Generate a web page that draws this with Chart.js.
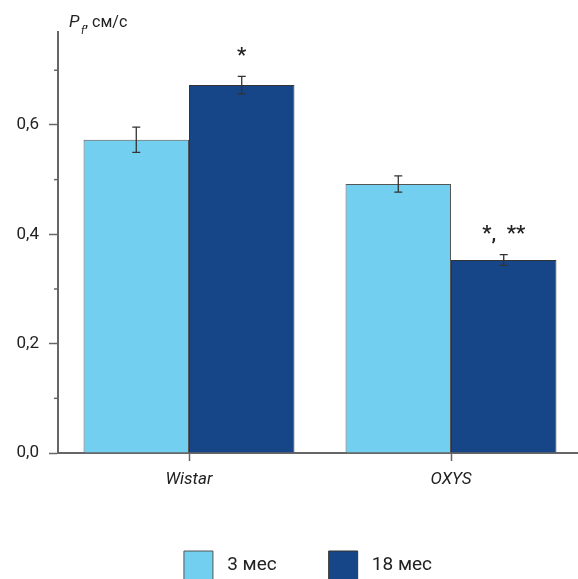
<!DOCTYPE html>
<html>
<head>
<meta charset="utf-8">
<script src="https://cdn.jsdelivr.net/npm/chart.js@4"></script>
<style>
  html, body { margin: 0; padding: 0; background: #fff; overflow: hidden; }
  #wrap { width: 578px; height: 579px; overflow: hidden; }
</style>
</head>
<body>
<div id="wrap"><canvas id="grafico" width="582" height="590"></canvas></div>
<script>
// Dados
const categorias = ['Wistar', 'OXYS'];
const series = ['3 мес', '18 мес'];
const valores3 = [0.573, 0.492];
const valores18 = [0.673, 0.353];
const erros3 = [0.023, 0.015];
const erros18 = [0.016, 0.010];
const marcas18 = ['*', '*,  **'];
const cores = ['#72CFF0', '#164687'];

const FONTE = 'Roboto, "DejaVu Sans", sans-serif';

// é um décimo "redondo"?
const decimo = v => Math.abs(v * 10 - Math.round(v * 10)) < 1e-6;
const par = v => decimo(v) && Math.round(v * 10) % 2 === 0;

// legenda um pouco à direita
const deslocaLegenda = {
  id: 'deslocaLegenda',
  afterLayout(chart) {
    chart.legend.left += 17;
    chart.legend.right += 17;
  }
};

// barras de erro + asteriscos + título do eixo
const extras = {
  id: 'extras',
  afterDatasetsDraw(chart) {
    const c = chart.ctx;
    const y = chart.scales.y;
    const erros = [erros3, erros18];
    c.save();
    chart.data.datasets.forEach((ds, i) => {
      const meta = chart.getDatasetMeta(i);
      meta.data.forEach((bar, j) => {
        const v = ds.data[j], e = erros[i][j];
        const yt = y.getPixelForValue(v + e), yb = y.getPixelForValue(v - e);
        c.strokeStyle = '#333';
        c.lineWidth = 1.3;
        c.beginPath();
        c.moveTo(bar.x, yt); c.lineTo(bar.x, yb);
        c.moveTo(bar.x - 4, yt); c.lineTo(bar.x + 4, yt);
        c.moveTo(bar.x - 4, yb); c.lineTo(bar.x + 4, yb);
        c.stroke();
        if (i === 1 && marcas18[j]) {
          c.fillStyle = '#222';
          c.font = '500 21px ' + FONTE;
          c.textAlign = 'center';
          c.textBaseline = 'middle';
          c.fillText(marcas18[j], bar.x, yt - 20);
        }
      });
    });
    // ticks menores
    c.strokeStyle = '#666';
    c.lineWidth = 1.5;
    [0.1, 0.3, 0.5, 0.7].forEach(v => {
      const py = y.getPixelForValue(v);
      c.beginPath();
      c.moveTo(chart.chartArea.left - 4, py);
      c.lineTo(chart.chartArea.left, py);
      c.stroke();
    });
    // título
    c.fillStyle = '#222';
    c.textBaseline = 'alphabetic';
    c.textAlign = 'left';
    c.font = 'italic 17px ' + FONTE;
    c.fillText('P', 69, 27);
    c.font = 'italic 11px ' + FONTE;
    c.fillText('f', 81, 34);
    c.font = '16px ' + FONTE;
    c.fillText(', см/с', 85, 27);
    c.restore();
  }
};

new Chart(document.getElementById('grafico'), {
  type: 'bar',
  data: {
    labels: categorias,
    datasets: [
      { label: series[0], data: valores3, backgroundColor: cores[0], borderColor: '#555', borderWidth: 1 },
      { label: series[1], data: valores18, backgroundColor: cores[1], borderColor: '#333', borderWidth: 1 }
    ]
  },
  options: {
    responsive: false,
    animation: false,
    categoryPercentage: 0.805,
    barPercentage: 1,
    layout: { padding: { top: 32, right: 0, left: 0, bottom: 0 } },
    plugins: {
      tooltip: { enabled: false },
      legend: {
        position: 'bottom',
        labels: {
          color: '#222',
          font: { family: FONTE, size: 19 },
          boxWidth: 29,
          boxHeight: 29,
          padding: 52,
          generateLabels: chart => Chart.defaults.plugins.legend.labels.generateLabels(chart)
            .map(l => ({ ...l, text: ' ' + l.text }))
        }
      }
    },
    scales: {
      x: {
        grid: { display: true, drawOnChartArea: false, offset: false, tickLength: 8, tickColor: '#666', tickWidth: 1.5 },
        border: { color: '#666', width: 2 },
        ticks: { color: '#222', padding: 9, font: { family: FONTE, size: 17, style: 'italic' } },
        afterFit: s => { s.height = 46; }
      },
      y: {
        min: 0,
        max: 0.77,
        grid: { display: true, drawOnChartArea: false, tickLength: 9, tickWidth: 1.5,
          tickColor: ctx => (par(ctx.tick.value) ? '#666' : 'rgba(0,0,0,0)') },
        border: { color: '#666', width: 2 },
        ticks: {
          stepSize: 0.1,
          padding: 10,
          color: '#222',
          font: { family: FONTE, size: 17 },
          callback: v => (par(v) ? v.toFixed(1).replace('.', ',') : '')
        },
        afterFit: s => { s.width = 58; }
      }
    }
  },
  plugins: [extras, deslocaLegenda]
});
</script>
</body>
</html>
